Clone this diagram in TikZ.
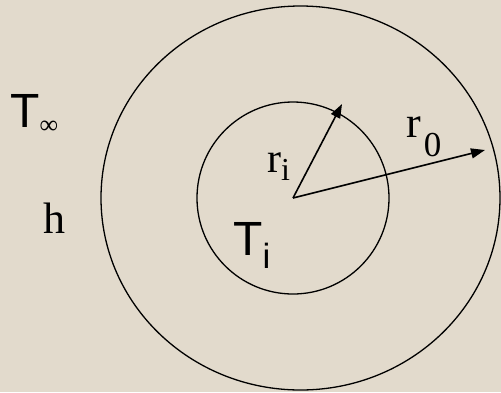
\documentclass[tikz,border=0pt]{standalone}
\usepackage{fontspec}
\setmainfont{Liberation Serif}
\newfontfamily\arialfont{Liberation Sans}
\usetikzlibrary{arrows.meta, positioning}
\definecolor{paper}{HTML}{E2DACC}

\begin{document}
\begin{tikzpicture}[x=1pt, y=-1pt,
    ring/.style={line width=1.3pt},
    radarrow/.style={line width=1.6pt, -{Triangle[length=14pt, width=10pt]}},
    lbl/.style={inner sep=0pt, anchor=base west}]
\useasboundingbox (0,0) rectangle (501,392);
\fill[paper] (0,0) rectangle (501,392);

% pipe wall
\coordinate (O) at (293,198);
\draw[ring] (300.5,198) ellipse [x radius=199.5, y radius=192];
\draw[ring] (O) circle [radius=96];

% radii
\coordinate (ritip) at (342,104);
\coordinate (rotip) at (485,150);
\draw[radarrow] (O) -- (ritip);
\draw[radarrow] (O) -- (rotip);

% labels
\node[lbl, font=\arialfont\fontsize{48}{48}\selectfont] (Tinf) at (10,127)
    {T\raisebox{-6pt}{\rmfamily\fontsize{26}{26}\selectfont ∞}};
\node[lbl, font=\fontsize{44}{44}\selectfont] (h) at (43,233) {h};
\node[lbl, font=\fontsize{42}{42}\selectfont] (ri) at (267,172)
    {r\raisebox{-8pt}{\fontsize{32}{32}\selectfont i}};
\node[lbl, font=\fontsize{44}{44}\selectfont] (ro) at (406,137)
    {r\kern3pt\raisebox{-19pt}{\fontsize{35}{35}\selectfont 0}};
\node[lbl, font=\arialfont\fontsize{48}{48}\selectfont] (Ti) at (233,255)
    {T\raisebox{-13pt}{\fontsize{35}{35}\selectfont i}};
\end{tikzpicture}
\end{document}
